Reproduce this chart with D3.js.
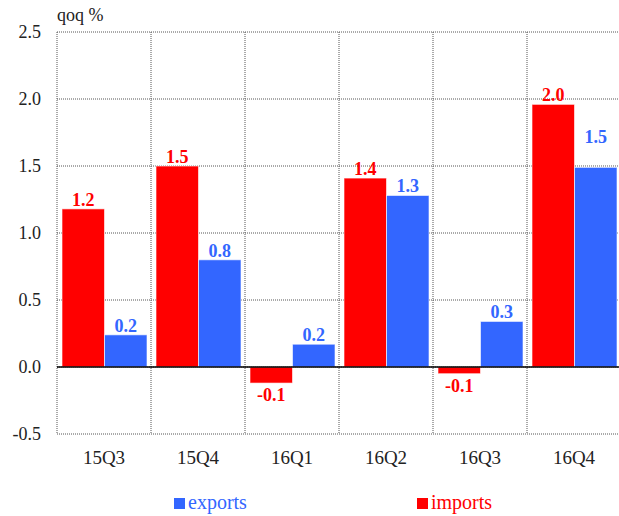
<!DOCTYPE html>
<html>
<head>
<meta charset="utf-8">
<script src="https://cdn.jsdelivr.net/npm/d3@7"></script>
<style>
  body { margin: 0; background: #fff; }
  svg { display: block; }
  text { font-family: "Liberation Serif", "DejaVu Serif", serif; }
</style>
</head>
<body>
<svg id="chart" width="619" height="516"></svg>
<script>
// chart values
const categories = ['15Q3', '15Q4', '16Q1', '16Q2', '16Q3', '16Q4'];
const imports = [1.18, 1.50, -0.12, 1.41, -0.05, 1.96];
const exports = [0.24, 0.80, 0.17, 1.28, 0.34, 1.49];
const yTicks = [-0.5, 0.0, 0.5, 1.0, 1.5, 2.0, 2.5];

const RED = '#ff0000';
const BLUE = '#3366ff';

// hyphen instead of unicode minus, as in the original
const fmt = v => d3.format('.1f')(v).replace('\u2212', '-');

const svg = d3.select('#chart');
const margin = { top: 32, right: -2, bottom: 82, left: 57 };
const width = 619 - margin.left - margin.right;
const height = 516 - margin.top - margin.bottom;

const g = svg.append('g')
    .attr('transform', `translate(${margin.left},${margin.top})`);

const x = d3.scaleBand().domain(categories).range([0, width]).padding(0);
const series = ['imports', 'exports'];
const x1 = d3.scaleBand().domain(series)
    .range([5, x.bandwidth() - 4]).padding(0);
const y = d3.scaleLinear().domain([-0.5, 2.5]).range([height, 0]);

// horizontal grid
g.append('g')
    .selectAll('line')
    .data(yTicks)
    .join('line')
    .attr('x1', 0).attr('x2', width)
    .attr('y1', d => y(d)).attr('y2', d => y(d))
    .attr('stroke', '#555')
    .attr('stroke-width', 1)
    .attr('stroke-dasharray', '1,1');

// vertical grid (category boundaries)
g.append('g')
    .selectAll('line')
    .data(categories)
    .join('line')
    .attr('x1', d => x(d)).attr('x2', d => x(d))
    .attr('y1', 0).attr('y2', height)
    .attr('stroke', '#555')
    .attr('stroke-width', 1)
    .attr('stroke-dasharray', '1,1');

// bars
const rows = categories.map((c, i) => ({ cat: c, imports: imports[i], exports: exports[i] }));
const colors = { imports: RED, exports: BLUE };

const groups = g.append('g')
    .selectAll('g')
    .data(rows)
    .join('g')
    .attr('transform', d => `translate(${x(d.cat)},0)`);

groups.selectAll('rect')
    .data(d => series.map(s => ({ key: s, value: d[s], idx: categories.indexOf(d.cat) })))
    .join('rect')
    .attr('x', d => x1(d.key))
    .attr('width', x1.bandwidth())
    .attr('y', d => y(Math.max(0, d.value)))
    .attr('height', d => Math.abs(y(d.value) - y(0)))
    .attr('fill', d => colors[d.key])
    .attr('stroke', '#ffffff')
    .attr('stroke-opacity', 0.6)
    .attr('stroke-width', 1);

// value labels
groups.selectAll('text.val')
    .data(d => series.map(s => ({ key: s, value: d[s], idx: categories.indexOf(d.cat) })))
    .join('text')
    .attr('class', 'val')
    .attr('x', d => x1(d.key) + x1.bandwidth() / 2)
    .attr('y', d => {
        if (d.value < 0) return y(d.value) + 18;
        // last exports label sits higher in the original
        const nudge = (d.key === 'exports' && d.idx === categories.length - 1) ? 21 : 0;
        return y(d.value) - 3 - nudge;
    })
    .attr('text-anchor', 'middle')
    .attr('font-size', 18)
    .attr('font-weight', 'bold')
    .attr('fill', d => colors[d.key])
    .text(d => fmt(d.value));

// zero line
g.append('line')
    .attr('x1', 0).attr('x2', width)
    .attr('y1', y(0)).attr('y2', y(0))
    .attr('stroke', '#000')
    .attr('stroke-width', 1.5);

// y axis labels
g.append('g')
    .selectAll('text')
    .data(yTicks)
    .join('text')
    .attr('x', -16)
    .attr('y', d => y(d) + 6)
    .attr('text-anchor', 'end')
    .attr('font-size', 18)
    .attr('fill', '#222')
    .text(d => fmt(d));

// x axis labels
g.append('g')
    .selectAll('text')
    .data(categories)
    .join('text')
    .attr('x', d => x(d) + x.bandwidth() / 2)
    .attr('y', height + 30)
    .attr('text-anchor', 'middle')
    .attr('font-size', 19)
    .attr('fill', '#222')
    .text(d => d);

// unit label
svg.append('text')
    .attr('x', margin.left)
    .attr('y', 21)
    .attr('font-size', 18)
    .attr('fill', '#222')
    .text('qoq %');

// legend
const legendItems = [
    { label: 'exports', color: BLUE, x: 174 },
    { label: 'imports', color: RED, x: 417 }
];
const legend = svg.append('g')
    .selectAll('g')
    .data(legendItems)
    .join('g')
    .attr('transform', d => `translate(${d.x},498)`);
legend.append('rect')
    .attr('width', 11).attr('height', 11)
    .attr('fill', d => d.color);
legend.append('text')
    .attr('x', 14)
    .attr('y', 11)
    .attr('font-size', 20)
    .attr('fill', d => d.color)
    .text(d => d.label);
</script>
</body>
</html>
